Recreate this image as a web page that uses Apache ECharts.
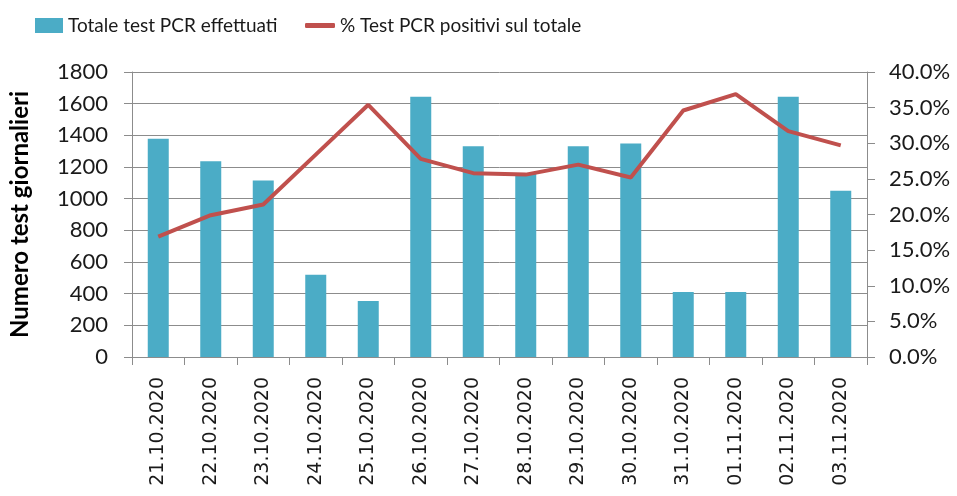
<!DOCTYPE html>
<html>
<head>
<meta charset="utf-8">
<script src="https://cdn.jsdelivr.net/npm/echarts@6/dist/echarts.min.js"></script>
<style>
html,body{margin:0;padding:0;background:#fff;}
#chart{width:957px;height:496px;}
</style>
</head>
<body>
<div id="chart"></div>
<script>
const categories = ['21.10.2020','22.10.2020','23.10.2020','24.10.2020','25.10.2020','26.10.2020','27.10.2020','28.10.2020','29.10.2020','30.10.2020','31.10.2020','01.11.2020','02.11.2020','03.11.2020'];
const totalTests = [1378, 1236, 1115, 520, 354, 1643, 1331, 1158, 1331, 1348, 410, 410, 1643, 1050];
const positivePct = [0.169, 0.199, 0.214, 0.284, 0.354, 0.278, 0.258, 0.256, 0.270, 0.252, 0.346, 0.369, 0.317, 0.297];
const leftTicks = {min: 0, max: 1800, interval: 200};
const rightTicks = {min: 0, max: 0.4, interval: 0.05};
const barName = 'Totale test PCR effettuati';
const lineName = '% Test PCR positivi sul totale';
const yTitle = 'Numero test giornalieri';

const FONT = "Lato, 'Open Sans', sans-serif";
const GRAY = '#8c8c8c';
const chart = echarts.init(document.getElementById('chart'), null, {renderer: 'canvas'});
chart.setOption({
  animation: false,
  backgroundColor: '#fff',
  grid: {left: 126, right: 90, top: 72, bottom: 139, containLabel: false},
  legend: [
    {data: [{name: barName, icon: 'rect'}], left: 30, top: 11, itemWidth: 28, itemHeight: 15,
     textStyle: {fontFamily: FONT, fontSize: 19, color: '#1a1a1a'}},
    {data: [{name: lineName, icon: 'roundRect'}], left: 300, top: 11, itemWidth: 30, itemHeight: 5,
     textStyle: {fontFamily: FONT, fontSize: 19, color: '#1a1a1a'}}
  ],
  xAxis: {
    type: 'category', data: categories, boundaryGap: true,
    axisLine: {lineStyle: {color: GRAY, width: 1}},
    axisTick: {show: true, length: 8, interval: 0, lineStyle: {color: GRAY}},
    axisLabel: {rotate: 90, interval: 0, margin: 20, fontFamily: "'DejaVu Sans', sans-serif", fontSize: 19, color: '#1a1a1a'}
  },
  yAxis: [
    {type: 'value', min: leftTicks.min, max: leftTicks.max, interval: leftTicks.interval,
     name: yTitle, nameLocation: 'middle', nameRotate: 90, nameGap: 100,
     nameTextStyle: {fontFamily: FONT, fontWeight: 'bold', fontSize: 24, color: '#000'},
     axisLine: {show: true, lineStyle: {color: GRAY}},
     axisTick: {show: true, length: 8, lineStyle: {color: GRAY}},
     axisLabel: {margin: 24, fontFamily: FONT, fontSize: 22, color: '#1a1a1a', formatter: v => String(v)},
     splitLine: {show: true, lineStyle: {color: GRAY, width: 1}}},
    {type: 'value', min: rightTicks.min, max: rightTicks.max, interval: rightTicks.interval, position: 'right',
     axisLine: {show: true, lineStyle: {color: GRAY}},
     axisTick: {show: true, length: 8, lineStyle: {color: GRAY}},
     axisLabel: {margin: 22, fontFamily: FONT, fontSize: 22, color: '#1a1a1a',
                 formatter: v => (v * 100).toFixed(1) + '%'},
     splitLine: {show: false}}
  ],
  series: [
    {name: barName, type: 'bar', data: totalTests, barWidth: 21, itemStyle: {color: '#4bacc6'}, yAxisIndex: 0},
    {name: lineName, type: 'line', data: positivePct, yAxisIndex: 1, symbol: 'none',
     lineStyle: {color: '#c0504d', width: 4}, itemStyle: {color: '#c0504d'}}
  ]
});
</script>
</body>
</html>
